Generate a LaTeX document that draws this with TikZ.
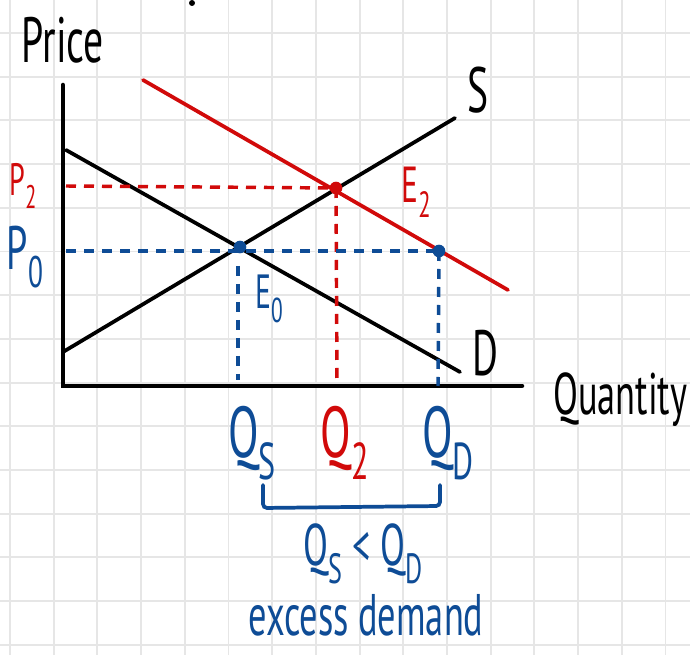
\documentclass[tikz,border=0pt]{standalone}
\usepackage{fontspec}
\setmainfont[FakeStretch=0.62]{PT Sans}
\usepackage{graphicx}
\usepackage{tikz}
\usetikzlibrary{calc,positioning}
\definecolor{redq}{HTML}{D10A0A}
\definecolor{blueq}{HTML}{0E4C96}
\definecolor{gridq}{HTML}{E6E6E6}
\newcommand{\lowsub}[1]{\raisebox{-0.3em}{\scalebox{0.72}{#1}}}
\newcommand{\fs}[1]{\fontsize{#1}{#1}\selectfont}
\tikzset{
  curve/.style={line width=2.8pt,line cap=round},
  axisln/.style={line width=3.4pt,line cap=round},
  guide/.style={line width=2.6pt,dash pattern=on 7.5pt off 6pt},
  pt/.style={circle,fill,inner sep=0pt,minimum size=9.5pt},
  lbl/.style={inner sep=0pt}
}
\begin{document}
\begin{tikzpicture}[x=0.75pt,y=-0.75pt]
\useasboundingbox (0,0) rectangle (690,655);
\fill[white] (0,0) rectangle (690,655);
% squared paper
\foreach \k in {0,...,15}{\draw[gridq,line width=1.4pt] ({10+43.7*\k},0) -- ({10+43.7*\k},655);}
\foreach \k in {0,...,14}{\draw[gridq,line width=1.4pt] (0,{33+43.7*\k}) -- (690,{33+43.7*\k});}
\fill (192,3) circle (3);

% axes
\coordinate (O) at (63,386);
\coordinate (ytop) at (63,85);
\coordinate (xend) at (522,386);
\draw[axisln] (ytop) -- (O) -- (xend);

% curves
\coordinate (Da) at (66,150);  \coordinate (Db) at (460,372);
\coordinate (Sa) at (63,352);  \coordinate (Sb) at (455,118);
\coordinate (Ra) at (143,80);  \coordinate (Rb) at (508,290);
\draw[curve] (Da) -- (Db);
\draw[curve] (Sa) -- (Sb);
\draw[curve,redq] (Ra) -- (Rb);

\coordinate (E0) at (240,247);
\coordinate (E2) at (336,188);
\coordinate (Qd) at (439,251);

% guides
\draw[guide,redq] (66,186) -- (E2);
\draw[guide,redq] (E2) -- (337,382);
\draw[guide,blueq] (66,251) -- (Qd);
\draw[guide,blueq] (238,266) -- (238,380);
\draw[guide,blueq] (Qd) -- (438,386);

\node[pt,redq] (e2dot) at (E2) {};
\node[pt,blueq] (e0dot) at (E0) {};
\node[pt,blueq] (qddot) at (Qd) {};

% labels
\node[lbl,anchor=base,font=\fs{48}] (price) at (63,63) {Price};
\node[lbl,anchor=base west,font=\fs{44}] (qty) at (553,415) {Quantity};
\node[lbl,font=\fs{48}] (slab) at (478,90) {S};
\node[lbl,font=\fs{48}] (dlab) at (485,353) {D};
\node[lbl,font=\fs{34},redq] (p2) at (23,186) {P\lowsub{2}};
\node[lbl,font=\fs{46},blueq] (p0) at (25,257) {P\lowsub{0}};
\node[lbl,font=\fs{36},blueq] (e0) at (269,299) {E\lowsub{0}};
\node[lbl,font=\fs{38},redq] (e2) at (416,192) {E\lowsub{2}};
\node[lbl,font=\fs{54},blueq] (qs) at (252,443) {Q\lowsub{S}};
\node[lbl,font=\fs{54},redq] (q2) at (345,443) {Q\lowsub{2}};
\node[lbl,font=\fs{54},blueq] (qdl) at (448,443) {Q\lowsub{D}};

% bracket
\coordinate (bl) at (263,485);
\coordinate (br) at (440,485);
\draw[blueq,curve,rounded corners=3pt] (bl) -- ++(0,23) -- ($(br)+(0,21)$) -- (br);

\node[lbl,font=\fs{44},blueq] (ineq) at (363,554) {Q\lowsub{S} < Q\lowsub{D}};
\node[lbl,anchor=base,font=\fs{44},blueq] (excess) at (366,636) {excess demand};
\end{tikzpicture}
\end{document}
